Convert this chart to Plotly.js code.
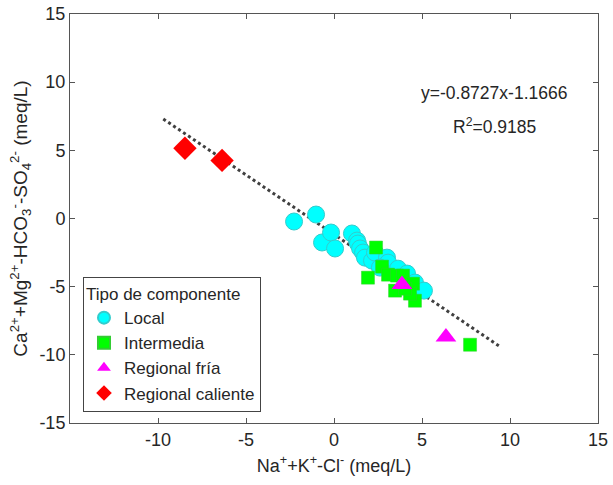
<!DOCTYPE html>
<html>
<head>
<meta charset="utf-8">
<script src="https://cdn.plot.ly/plotly-3.0.1.min.js"></script>
<style>html,body{margin:0;padding:0;background:#fff;}#chart{width:613px;height:485px;}</style>
</head>
<body>
<div id="chart"></div>
<script>
// Data
const localX = [-2.27, -1.02, -0.68, -0.17, 0.06, 1.02, 1.31, 1.36, 1.48, 1.65, 1.76, 2.16, 2.33, 3.01, 3.07, 2.61, 3.64, 4.15, 4.6, 5.11];
const localY = [-0.22, 0.29, -1.76, -1.03, -2.2, -1.1, -1.62, -1.84, -2.2, -2.5, -2.87, -3.09, -2.5, -2.87, -3.24, -3.6, -3.68, -4.04, -4.7, -5.29];
const interX = [2.39, 1.93, 2.73, 3.07, 3.58, 3.92, 3.47, 4.49, 4.6, 4.32, 4.03, 7.73];
const interY = [-2.13, -4.34, -3.53, -4.12, -4.19, -4.19, -5.29, -4.78, -6.03, -5.51, -5.15, -9.26];
const friaX = [3.86, 6.36];
const friaY = [-4.85, -8.7];
const calX = [-8.47, -6.36];
const calY = [5.15, 4.26];
const slope = -0.8727, intercept = -1.1666;
const fitRange = [-9.7, 9.5];
const xTickVals = [-10, -5, 0, 5, 10, 15];
const xTickText = ['-10', '-5', '0', '5', '10', '15'];
const yTickVals = [-15, -10, -5, 0, 5, 10, 15];
const yTickText = ['-15', '-10', '-5', '0', '5', '10', '15'];

const fitX = fitRange;
const fitY = fitRange.map(x => slope * x + intercept);

const font = {family: 'Liberation Sans, Arial, sans-serif', color: '#262626'};
const f = s => Object.assign({size: s}, font);

const traces = [
  {x: fitX, y: fitY, mode: 'lines', line: {color: '#404040', width: 3, dash: 'dot'}, showlegend: false, hoverinfo: 'skip'},
  {x: localX, y: localY, mode: 'markers', name: 'Local', marker: {symbol: 'circle', size: 17, color: '#00FFFF', line: {color: '#33CCCC', width: 1}}},
  {x: interX, y: interY, mode: 'markers', name: 'Intermedia', marker: {symbol: 'square', size: 13, color: '#00FF00', line: {color: '#33CC33', width: 0.5}}},
  {x: friaX, y: friaY, mode: 'markers', name: 'Regional fría', marker: {symbol: 'triangle-up', size: 18, color: '#FF00FF', line: {width: 0}}},
  {x: calX, y: calY, mode: 'markers', name: 'Regional caliente', marker: {symbol: 'diamond', size: 18, color: '#FF0000', line: {width: 0}}}
];

const axisCommon = {
  range: [-15, 15], showgrid: false, zeroline: false,
  showline: true, linecolor: '#555', linewidth: 1, mirror: 'ticks',
  ticks: 'inside', ticklen: 5, tickcolor: '#555',
  tickfont: f(18)
};

const layout = {
  width: 613, height: 485,
  margin: {l: 70, r: 15, t: 14, b: 62},
  paper_bgcolor: '#fff', plot_bgcolor: '#fff',
  font: font,
  xaxis: Object.assign({}, axisCommon, {
    tickmode: 'array', tickvals: xTickVals, ticktext: xTickText,
    title: {text: 'Na<sup>+</sup>+K<sup>+</sup>-Cl<sup>-</sup> (meq/L)', font: f(18), standoff: 10}
  }),
  yaxis: Object.assign({}, axisCommon, {
    tickmode: 'array', tickvals: yTickVals, ticktext: yTickText,
    title: {text: 'Ca<sup>2+</sup>+Mg<sup>2+</sup>-HCO<sub>3</sub><sup>-</sup>-SO<sub>4</sub><sup>2-</sup> (meq/L)', font: f(19), standoff: 6}
  }),
  legend: {
    x: 0.0246, y: 0.357, xanchor: 'left', yanchor: 'top',
    bordercolor: '#444', borderwidth: 1, bgcolor: '#fff',
    font: f(17),
    title: {text: 'Tipo de componente', side: 'top', font: f(17)},
    itemsizing: 'constant', tracegroupgap: 0, itemwidth: 30
  },
  annotations: [
    {x: 9.1, y: 9.2, xref: 'x', yref: 'y', text: 'y=-0.8727x-1.1666', showarrow: false, font: f(17.5)},
    {x: 9.1, y: 6.75, xref: 'x', yref: 'y', text: 'R<sup>2</sup>=0.9185', showarrow: false, font: f(17.5)}
  ]
};

Plotly.newPlot('chart', traces, layout, {displayModeBar: false, staticPlot: true});
</script>
</body>
</html>
